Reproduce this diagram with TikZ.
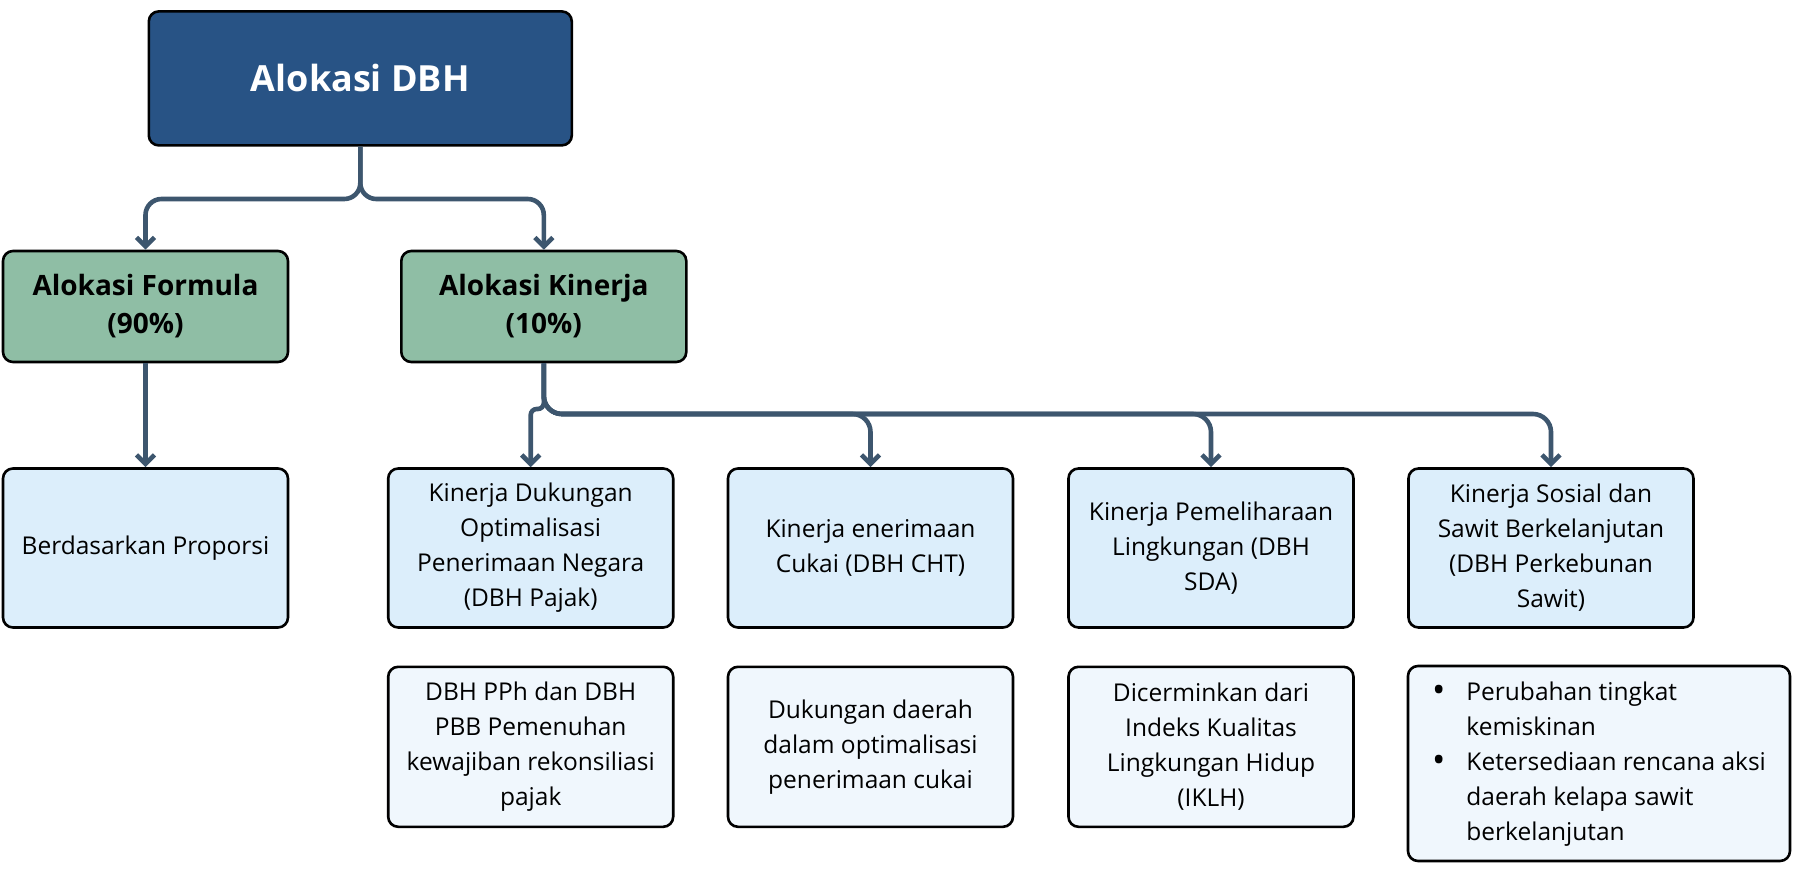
\documentclass[tikz,border=0pt]{standalone}
\usepackage{fontspec}
\setmainfont{Open Sans}
\usetikzlibrary{arrows.meta}
\definecolor{dbhblue}{HTML}{285385}
\definecolor{alokgreen}{HTML}{8FBEA5}
\definecolor{kinblue}{HTML}{DCEEFB}
\definecolor{detblue}{HTML}{F0F7FD}
\definecolor{linkgray}{HTML}{3D566E}
\newcommand{\sawitdot}{\raisebox{-1.5pt}{\scalebox{1.45}{\textbullet}}}

\begin{document}
\begin{tikzpicture}[x=1pt,y=-1pt,
	box/.style={draw=black, line width=2.6pt, rounded corners=10pt, align=center, inner sep=0pt, minimum width=285pt},
	topbox/.style={box, fill=dbhblue, text=white, minimum width=423pt, minimum height=134pt, font=\fontsize{36}{44}\selectfont\bfseries},
	alokbox/.style={box, fill=alokgreen, minimum height=111pt, font=\fontsize{28}{38}\selectfont\bfseries},
	kinbox/.style={box, fill=kinblue, minimum height=159pt, font=\fontsize{24.5}{35}\selectfont},
	detbox/.style={box, fill=detblue, minimum height=160pt, font=\fontsize{24.5}{35}\selectfont},
	link/.style={->, >={Straight Barb[length=9pt,width=18pt]}, linkgray, line width=4.6pt, rounded corners=16pt}]
				\useasboundingbox (0,0) rectangle (1808,876);
				% top level
				\node[topbox] (dbh) at (360.3,78.4) {Alokasi DBH};
				\node[alokbox] (formula) at (145.5,306.5) {Alokasi Formula\\(90\%)};
				\node[alokbox] (kinerja) at (543.8,306.5) {Alokasi Kinerja\\(10\%)};
				
				% kinerja indicators
				\node[kinbox] (proporsi) at (145.5,548) {Berdasarkan Proporsi};
				\node[kinbox] (pajak) at (530.7,548) {Kinerja Dukungan\\Optimalisasi\\Penerimaan Negara\\(DBH Pajak)};
				\node[kinbox] (cht) at (870.5,548) {Kinerja enerimaan\\Cukai (DBH CHT)};
				\node[kinbox] (sda) at (1211,548) {Kinerja Pemeliharaan\\Lingkungan (DBH\\SDA)};
				\node[kinbox] (sawit) at (1551,548) {Kinerja Sosial dan\\Sawit Berkelanjutan\\(DBH Perkebunan\\Sawit)};
				
				% details
				\node[detbox] (pph) at (530.7,746.8) {DBH PPh dan DBH\\PBB Pemenuhan\\kewajiban rekonsiliasi\\pajak};
				\node[detbox] (cukai) at (870.5,746.8) {Dukungan daerah\\dalam optimalisasi\\penerimaan cukai};
				\node[detbox] (iklh) at (1211,746.8) {Dicerminkan dari\\Indeks Kualitas\\Lingkungan Hidup\\(IKLH)};
				\node[detbox, minimum width=382pt, minimum height=195pt] (sawitlist) at (1599,763.5) {\begin{tabular}{@{}l@{\hspace{21pt}}l@{}}
					\sawitdot & Perubahan tingkat\\
					& kemiskinan\\
					\sawitdot & Ketersediaan rencana aksi\\
					& daerah kelapa sawit\\
					& berkelanjutan
				\end{tabular}};
				
				\coordinate (dsplit) at (360.3,199);
				\coordinate (kjog) at (543.8,409);
				\coordinate (ksplit) at (543.8,414);
				
				\draw[link] (dbh.south) -- (dsplit) -| (formula.north);
				\draw[link] (dbh.south) -- (dsplit) -| (kinerja.north);
				\draw[link] (formula.south) -- (proporsi.north);
				\draw[link, rounded corners=6pt] (kinerja.south) -- (kjog) -| (pajak.north);
				\draw[link, rounded corners=18pt] (kinerja.south) -- (ksplit) -| (cht.north);
				\draw[link, rounded corners=18pt] (kinerja.south) -- (ksplit) -| (sda.north);
				\draw[link, rounded corners=18pt] (kinerja.south) -- (ksplit) -| (sawit.north);
			\end{tikzpicture}
\end{document}
